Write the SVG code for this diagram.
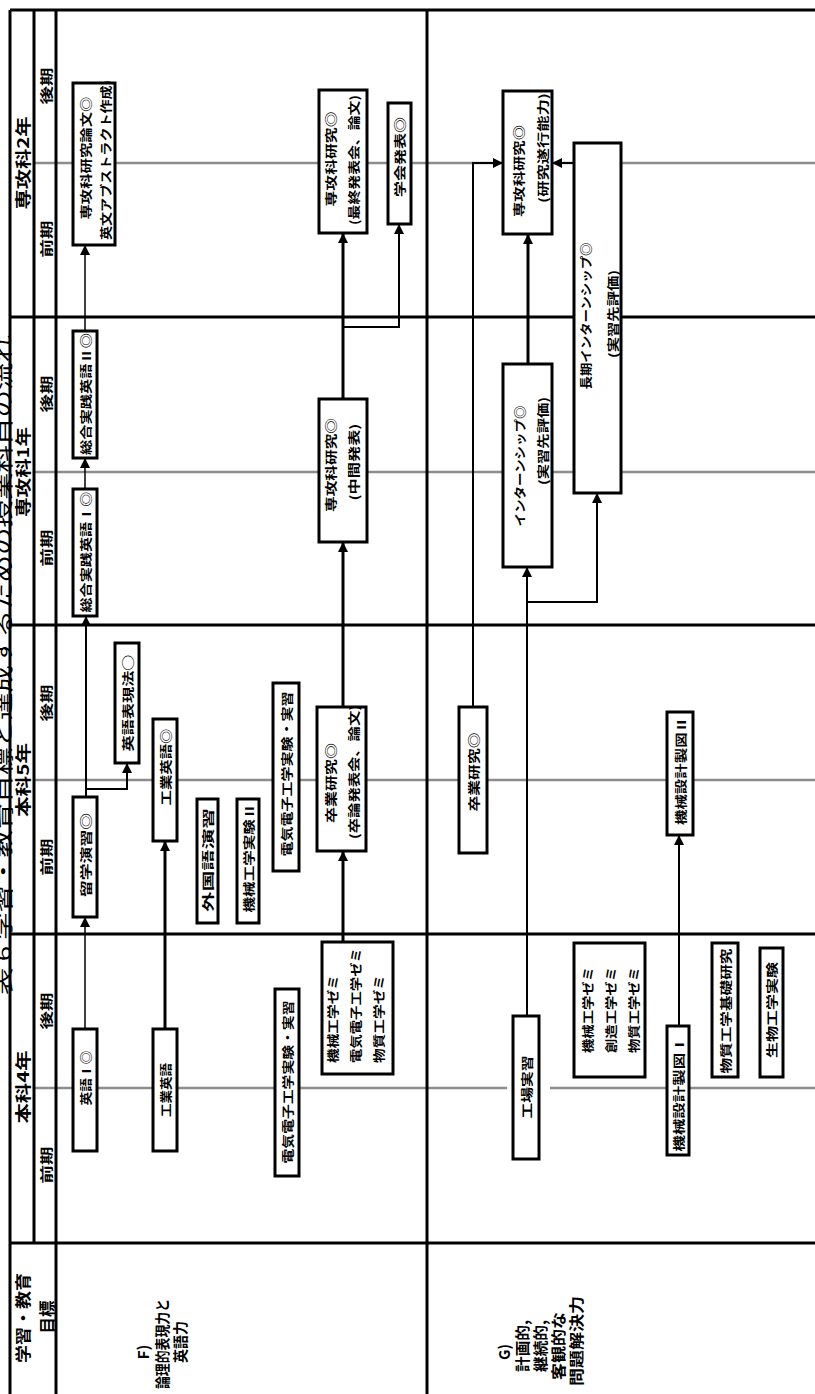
<svg xmlns="http://www.w3.org/2000/svg" width="815" height="1394" viewBox="0 0 815 1394">
<defs>
<style>
.grid{stroke:#000;stroke-width:3;fill:none}
.mid{stroke:#8c8c8c;stroke-width:2.5;fill:none}
.box{fill:#fff;stroke:#000;stroke-width:3}
text{font-family:"Noto Sans CJK JP","Noto Sans CJK SC",sans-serif;font-weight:700;fill:#000;text-anchor:middle;dominant-baseline:central}
.t{font-size:12px}
.h{font-size:16px}
.p{font-size:13px}
.g{font-size:15px}
.ttl{font-size:20px;font-weight:400}
.st{text-anchor:start}
.c{stroke:#000;fill:none}
.c1{stroke-width:1.5}
.c2{stroke-width:2}
.c3{stroke-width:3}
</style>
<marker id="ah" markerUnits="userSpaceOnUse" viewBox="0 0 10 10" refX="10" refY="5" markerWidth="10" markerHeight="10" orient="auto"><path d="M0,0 L10,5 L0,10 Z" fill="#000"/></marker>
</defs>
<rect x="0" y="0" width="815" height="1394" fill="#fff"/>

<g id="title">
<text class="ttl" transform="translate(2,665) rotate(-90)" textLength="660" lengthAdjust="spacingAndGlyphs">表 6 学習・教育目標と達成するための授業科目の流れ</text>
</g>

<g id="table">
<path class="mid" d="M34,163H815M34,472H815M34,780H815M34,1088H507M550,1088H815"/>
<path class="grid" d="M10,10H815M10,317H815M10,625H815M10,934H815M10,1243H815M10,10V1394M34,10V1243M56,10V1394M427,10V1394"/>
<text class="h" transform="translate(22,163) rotate(-90)" textLength="93" lengthAdjust="spacingAndGlyphs">専攻科2年</text>
<text class="h" transform="translate(22,472) rotate(-90)" textLength="90" lengthAdjust="spacingAndGlyphs">専攻科1年</text>
<text class="h" transform="translate(22,780) rotate(-90)" textLength="74" lengthAdjust="spacingAndGlyphs">本科5年</text>
<text class="h" transform="translate(22,1087) rotate(-90)" textLength="73" lengthAdjust="spacingAndGlyphs">本科4年</text>
<text class="p" transform="translate(45,86) rotate(-90)" textLength="37" lengthAdjust="spacingAndGlyphs">後期</text>
<text class="p" transform="translate(45,239) rotate(-90)" textLength="37" lengthAdjust="spacingAndGlyphs">前期</text>
<text class="p" transform="translate(45,394) rotate(-90)" textLength="37" lengthAdjust="spacingAndGlyphs">後期</text>
<text class="p" transform="translate(45,548) rotate(-90)" textLength="37" lengthAdjust="spacingAndGlyphs">前期</text>
<text class="p" transform="translate(45,703) rotate(-90)" textLength="37" lengthAdjust="spacingAndGlyphs">後期</text>
<text class="p" transform="translate(45,857) rotate(-90)" textLength="37" lengthAdjust="spacingAndGlyphs">前期</text>
<text class="p" transform="translate(45,1011) rotate(-90)" textLength="37" lengthAdjust="spacingAndGlyphs">後期</text>
<text class="p" transform="translate(45,1165) rotate(-90)" textLength="37" lengthAdjust="spacingAndGlyphs">前期</text>
<text class="h" transform="translate(22,1318) rotate(-90)" textLength="90" lengthAdjust="spacingAndGlyphs">学習・教育</text>
<text class="h" transform="translate(46,1317) rotate(-90)" textLength="33" lengthAdjust="spacingAndGlyphs">目標</text>
</g>

<g id="goalF">
<text class="g" transform="translate(142,1352) rotate(-90)" textLength="15" lengthAdjust="spacingAndGlyphs">F)</text>
<text class="g" transform="translate(161,1344) rotate(-90)" textLength="90" lengthAdjust="spacingAndGlyphs">論理的表現力と</text>
<text class="g" transform="translate(179,1342) rotate(-90)" textLength="42" lengthAdjust="spacingAndGlyphs">英語力</text>
</g>
<g id="goalG">
<text class="g" transform="translate(503,1352) rotate(-90)" textLength="16" lengthAdjust="spacingAndGlyphs">G)</text>
<text class="g" transform="translate(521,1346) rotate(-90)" textLength="52" lengthAdjust="spacingAndGlyphs">計画的,</text>
<text class="g" transform="translate(539,1346) rotate(-90)" textLength="52" lengthAdjust="spacingAndGlyphs">継続的,</text>
<text class="g" transform="translate(557,1346) rotate(-90)" textLength="68" lengthAdjust="spacingAndGlyphs">客観的な</text>
<text class="g" transform="translate(575,1341) rotate(-90)" textLength="90" lengthAdjust="spacingAndGlyphs">問題解決力</text>
</g>

<g id="connectors">
<path class="c c1" d="M85,331V245" marker-end="url(#ah)"/>
<path class="c c1" d="M85,489V458" marker-end="url(#ah)"/>
<path class="c c2" d="M86,797V616" marker-end="url(#ah)"/>
<path class="c c2" d="M86,789H127V763" marker-end="url(#ah)"/>
<path class="c c1" d="M85,1029V917" marker-end="url(#ah)"/>
<path class="c c3" d="M165,1029V841" marker-end="url(#ah)"/>
<path class="c c3" d="M343,942V851" marker-end="url(#ah)"/>
<path class="c c3" d="M343,707V542" marker-end="url(#ah)"/>
<path class="c c3" d="M343,399V233" marker-end="url(#ah)"/>
<path class="c c2" d="M343,327H399V224" marker-end="url(#ah)"/>
<path class="c c2" d="M473,707V163H503" marker-end="url(#ah)"/>
<path class="c c2" d="M574,163H552" marker-end="url(#ah)"/>
<path class="c c3" d="M528,364V234" marker-end="url(#ah)"/>
<path class="c c2" d="M527,1016V567" marker-end="url(#ah)"/>
<path class="c c2" d="M527,602H597V493" marker-end="url(#ah)"/>
<path class="c c2" d="M679,1026V835" marker-end="url(#ah)"/>
</g>

<g id="n1"><rect class="box" x="73" y="83" width="42" height="162"/>
<text class="t" transform="translate(85,158) rotate(-90)" textLength="123" lengthAdjust="spacingAndGlyphs">専攻科研究論文◎</text>
<text class="t" transform="translate(105,160) rotate(-90)" textLength="160" lengthAdjust="spacingAndGlyphs">英文アブストラクト作成)</text></g>
<g id="n2"><rect class="box" x="319" y="90" width="48" height="143"/>
<text class="t" transform="translate(330,159) rotate(-90)" textLength="95" lengthAdjust="spacingAndGlyphs">専攻科研究◎</text>
<text class="t" transform="translate(353,160) rotate(-90)" textLength="130" lengthAdjust="spacingAndGlyphs">(最終発表会、論文)</text></g>
<g id="n3"><rect class="box" x="388" y="103" width="23" height="121"/>
<text class="t" transform="translate(399,157) rotate(-90)" textLength="80" lengthAdjust="spacingAndGlyphs">学会発表◎</text></g>
<g id="n4"><rect class="box" x="73" y="331" width="24" height="127"/>
<text class="t" transform="translate(85,394) rotate(-90)" textLength="122" lengthAdjust="spacingAndGlyphs">総合実践英語Ⅱ◎</text></g>
<g id="n5"><rect class="box" x="73" y="489" width="24" height="127"/>
<text class="t" transform="translate(85,552) rotate(-90)" textLength="121" lengthAdjust="spacingAndGlyphs">総合実践英語Ⅰ◎</text></g>
<g id="n6"><rect class="box" x="115" y="643" width="24" height="120"/>
<text class="t" transform="translate(127,703) rotate(-90)" textLength="97" lengthAdjust="spacingAndGlyphs">英語表現法○</text></g>
<g id="n7"><rect class="box" x="73" y="797" width="24" height="120"/>
<text class="t" transform="translate(85,855) rotate(-90)" textLength="84" lengthAdjust="spacingAndGlyphs">留学演習◎</text></g>
<g id="n8"><rect class="box" x="153" y="719" width="24" height="122"/>
<text class="t" transform="translate(165,767) rotate(-90)" textLength="77" lengthAdjust="spacingAndGlyphs">工業英語◎</text></g>
<g id="n9"><rect class="box" x="197" y="799" width="21" height="124"/>
<text class="t" transform="translate(207,860) rotate(-90)" textLength="104" lengthAdjust="spacingAndGlyphs">外国語演習</text></g>
<g id="n10"><rect class="box" x="237" y="799" width="22" height="124"/>
<text class="t" transform="translate(248,858) rotate(-90)" textLength="109" lengthAdjust="spacingAndGlyphs">機械工学実験Ⅱ</text></g>
<g id="n11"><rect class="box" x="273" y="683" width="26" height="188"/>
<text class="t" transform="translate(286,774) rotate(-90)" textLength="165" lengthAdjust="spacingAndGlyphs">電気電子工学実験・実習</text></g>
<g id="n12"><rect class="box" x="317" y="707" width="49" height="144"/>
<text class="t" transform="translate(330,783) rotate(-90)" textLength="80" lengthAdjust="spacingAndGlyphs">卒業研究◎</text>
<text class="t" transform="translate(353,772) rotate(-90)" textLength="134" lengthAdjust="spacingAndGlyphs">(卒論発表会、論文)</text></g>
<g id="n13"><rect class="box" x="319" y="399" width="48" height="143"/>
<text class="t" transform="translate(330,465) rotate(-90)" textLength="94" lengthAdjust="spacingAndGlyphs">専攻科研究◎</text>
<text class="t" transform="translate(353,462) rotate(-90)" textLength="77" lengthAdjust="spacingAndGlyphs">(中間発表)</text></g>
<g id="n14"><rect class="box" x="73" y="1029" width="24" height="122"/>
<text class="t" transform="translate(85,1078) rotate(-90)" textLength="55" lengthAdjust="spacingAndGlyphs">英語Ⅰ◎</text></g>
<g id="n15"><rect class="box" x="153" y="1029" width="24" height="122"/>
<text class="t" transform="translate(165,1090) rotate(-90)" textLength="54" lengthAdjust="spacingAndGlyphs">工業英語</text></g>
<g id="n16"><rect class="box" x="275" y="989" width="24" height="187"/>
<text class="t" transform="translate(287,1082) rotate(-90)" textLength="163" lengthAdjust="spacingAndGlyphs">電気電子工学実験・実習</text></g>
<g id="n17"><rect class="box" x="322" y="942" width="71" height="132"/>
<text class="t st" transform="translate(332,1063) rotate(-90)" textLength="88" lengthAdjust="spacingAndGlyphs">機械工学ゼミ</text>
<text class="t st" transform="translate(355,1063) rotate(-90)" textLength="115" lengthAdjust="spacingAndGlyphs">電気電子工学ゼミ</text>
<text class="t st" transform="translate(378,1063) rotate(-90)" textLength="88" lengthAdjust="spacingAndGlyphs">物質工学ゼミ</text></g>

<g id="n18"><rect class="box" x="503" y="91" width="49" height="143"/>
<text class="t" transform="translate(518,171) rotate(-90)" textLength="92" lengthAdjust="spacingAndGlyphs">専攻科研究◎</text>
<text class="t" transform="translate(542,148) rotate(-90)" textLength="110" lengthAdjust="spacingAndGlyphs">(研究遂行能力)</text></g>
<g id="n19"><rect class="box" x="574" y="143" width="47" height="350"/>
<text class="t" transform="translate(585,316) rotate(-90)" textLength="147" lengthAdjust="spacingAndGlyphs">長期インターンシップ◎</text>
<text class="t" transform="translate(612,314) rotate(-90)" textLength="88" lengthAdjust="spacingAndGlyphs">(実習先評価)</text></g>
<g id="n20"><rect class="box" x="503" y="364" width="49" height="203"/>
<text class="t" transform="translate(519,466) rotate(-90)" textLength="121" lengthAdjust="spacingAndGlyphs">インターンシップ◎</text>
<text class="t" transform="translate(542,441) rotate(-90)" textLength="88" lengthAdjust="spacingAndGlyphs">(実習先評価)</text></g>
<g id="n21"><rect class="box" x="459" y="707" width="28" height="146"/>
<text class="t" transform="translate(473,772) rotate(-90)" textLength="79" lengthAdjust="spacingAndGlyphs">卒業研究◎</text></g>
<g id="n22"><rect class="box" x="667" y="712" width="26" height="123"/>
<text class="t" transform="translate(680,771) rotate(-90)" textLength="108" lengthAdjust="spacingAndGlyphs">機械設計製図Ⅱ</text></g>
<g id="n23"><rect class="box" x="513" y="1016" width="26" height="143"/>
<text class="t" transform="translate(526,1087) rotate(-90)" textLength="63" lengthAdjust="spacingAndGlyphs">工場実習</text></g>
<g id="n24"><rect class="box" x="574" y="943" width="71" height="134"/>
<text class="t st" transform="translate(587,1053) rotate(-90)" textLength="86" lengthAdjust="spacingAndGlyphs">機械工学ゼミ</text>
<text class="t st" transform="translate(610,1053) rotate(-90)" textLength="86" lengthAdjust="spacingAndGlyphs">創造工学ゼミ</text>
<text class="t st" transform="translate(633,1053) rotate(-90)" textLength="86" lengthAdjust="spacingAndGlyphs">物質工学ゼミ</text></g>
<g id="n25"><rect class="box" x="667" y="1026" width="22" height="129"/>
<text class="t" transform="translate(678,1094) rotate(-90)" textLength="115" lengthAdjust="spacingAndGlyphs">機械設計製図Ⅰ</text></g>
<g id="n26"><rect class="box" x="712" y="943" width="26" height="134"/>
<text class="t" transform="translate(725,1011) rotate(-90)" textLength="125" lengthAdjust="spacingAndGlyphs">物質工学基礎研究</text></g>
<g id="n27"><rect class="box" x="760" y="948" width="23" height="129"/>
<text class="t" transform="translate(771,1010) rotate(-90)" textLength="96" lengthAdjust="spacingAndGlyphs">生物工学実験</text></g>
</svg>
